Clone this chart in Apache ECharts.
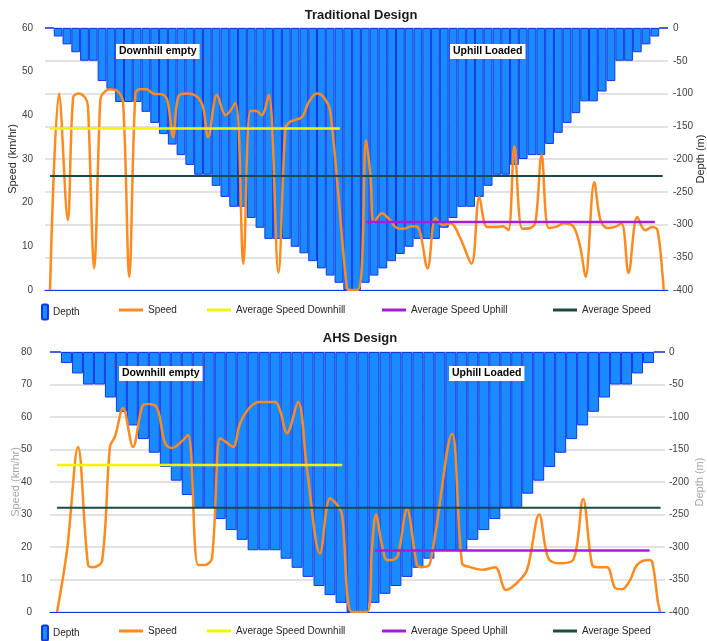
<!DOCTYPE html>
<html>
<head>
<meta charset="utf-8">
<script src="https://cdn.jsdelivr.net/npm/echarts@6/dist/echarts.min.js"></script>
<style>
  html, body { margin: 0; padding: 0; background: #ffffff; }
  #chart { width: 707px; height: 641px; }
</style>
</head>
<body>
<div id="chart"></div>
<script>
// ---- Traditional design: pit depth per bench segment (m) ----
const tradDepth = [0, -13, -25, -37, -50, -50, -81, -93, -113, -113, -113,
  -128, -145, -162, -178, -194, -209, -224, -224, -241, -258,
  -273, -273, -290, -305, -322, -322, -322, -334, -344, -356,
  -367, -378, -389, -400, -400, -389, -378, -367, -356, -345,
  -334, -322, -322, -322, -305, -290, -273, -273, -258, -241,
  -224, -224, -209, -200, -194, -194, -177, -160, -145, -130,
  -112, -112, -97, -81, -50, -50, -37, -25, -13, 0];

// Traditional design: truck speed along the haul cycle (station in segment units, km/hr)
const tradStation = [0.57, 1.6, 2.6, 3.2, 3.8, 4.6, 4.9, 5.6, 6.3, 6.6, 7.4, 8.3, 8.9, 9.6,
  10.3, 10.8, 11.6, 12.3, 13.5, 14.0, 14.6, 15.2, 16.2, 17.3, 18.0, 18.6, 19.6, 20.6,
  21.7, 22.6, 23.4, 24.1, 24.7, 25.5, 26.6, 27.4, 27.9, 29.3, 30.0, 31.0, 31.7, 32.5,
  34.4, 34.8, 35.6, 36.1, 36.6, 37.1, 37.5, 38.4, 39.1, 40.1, 40.8, 41.8, 42.5, 43.6,
  44.5, 45.3, 46.2, 47.3, 48.6, 49.5, 50.4, 51.5, 52.2, 52.8, 53.5, 54.4, 55.3, 55.9,
  56.6, 57.4, 58.3, 59.1, 60.2, 61.0, 61.6, 62.6, 63.3, 64.1, 64.9, 65.7, 66.5, 67.5,
  68.4, 69.2, 69.8, 70.4, 70.5];
const tradSpeed = [0, 45, 16, 44, 45, 44, 42, 5, 43.5, 45, 46, 45.5, 43, 3,
  45, 46, 46, 45, 44.7, 43, 35, 44.3, 45, 44.3, 42, 35, 44.7, 40,
  42.8, 6, 41, 41, 40, 44.7, 4, 37, 38.5, 39.6, 42.8, 45, 44.3, 41,
  0.5, 0, 0, 5, 34.3, 26, 15.4, 17.6, 16.5, 14.2, 14, 14.6, 14.4, 5,
  16.5, 14.9, 15.3, 12, 6, 21.3, 14.4, 14.4, 14.6, 13.7, 33, 14, 14.2, 15.6,
  31, 14.2, 14.5, 15.3, 14.6, 9.8, 3, 24.7, 16, 14.2, 14.4, 15.3, 3.9, 16.7,
  13.7, 14.4, 13.7, 3, 0];

// Traditional design: average speeds (km/hr) and the stretch each one covers
const tradAvgDownhill = 37;
const tradAvgDownhillSpan = [0.57, 33.6];
const tradAvgUphill = 15.6;
const tradAvgUphillSpan = [36.6, 69.5];
const tradAvgAll = 26.1;
const tradAvgAllSpan = [0.57, 70.4];

// ---- AHS design: pit depth per bench segment (m) ----
const ahsDepth = [0, -17, -33, -50, -50, -70, -92, -113, -134, -155,
  -177, -198, -220, -240, -240, -257, -274, -289, -305, -305,
  -305, -318, -332, -346, -360, -374, -386, -400, -400, -386,
  -372, -360, -346, -332, -318, -305, -305, -305, -289, -274,
  -257, -240, -240, -218, -198, -177, -155, -134, -113, -92,
  -70, -50, -50, -33, -17, 0];

// AHS design: truck speed along the haul cycle (station in segment units, km/hr)
const ahsStation = [0.64, 1.55, 2.55, 3.46, 3.92, 4.74, 5.46, 5.92, 6.65, 7.56, 8.47, 8.93,
  9.75, 10.47, 11.11, 11.84, 12.57, 13.48, 14.12, 14.75, 15.48, 15.94, 16.67, 17.30,
  18.21, 19.13, 20.49, 20.95, 21.58, 22.59, 23.41, 24.59, 25.50, 26.14, 26.59, 27.50,
  28.87, 29.33, 29.69, 30.15, 30.69, 31.15, 31.69, 32.51, 33.42, 33.88, 34.61, 36.61,
  37.52, 38.25, 39.44, 40.53, 41.53, 42.53, 43.44, 44.54, 45.36, 46.27, 47.63, 48.54,
  49.36, 49.91, 50.73, 51.46, 52.09, 52.82, 53.46, 54.46, 54.83, 55.37, 55.56];
const ahsSpeed = [0, 19, 50.8, 14.5, 13.8, 15.7, 50.8, 54, 62.8, 50.8, 63.7, 64,
  62.8, 52, 50.5, 52, 54.5, 14.5, 14.5, 16.6, 53.5, 52.5, 50.8, 58,
  63, 64.6, 64.6, 62, 55, 64.6, 43.7, 18, 35, 33, 30, 0,
  0, 20, 30, 22, 16, 16, 17.5, 31.7, 14.5, 13.8, 15, 54.8,
  15, 13.8, 13, 13.8, 6.8, 9, 13, 30, 16.6, 15, 16, 34.8,
  14.5, 13.8, 13.8, 7.4, 7, 9.8, 14.5, 16, 15.5, 2.8, 0];

// AHS design: average speeds (km/hr) and the stretch each one covers
const ahsAvgDownhill = 45.2;
const ahsAvgDownhillSpan = [0.64, 26.6];
const ahsAvgUphill = 18.9;
const ahsAvgUphillSpan = [29.6, 54.6];
const ahsAvgAll = 32.1;
const ahsAvgAllSpan = [0.64, 55.6];

// Axis tick settings
const speedTicksTrad = { min: 0, max: 60, interval: 10 };
const speedTicksAhs = { min: 0, max: 80, interval: 10 };
const depthTicks = { min: -400, max: 0, interval: 50 };

const FONT = 'Liberation Sans';
const COLORS = {
  barFill: '#1a8aff',
  barEdge: '#1436e6',
  speed: '#ff8a1f',
  down: '#f4f400',
  up: '#a81cd6',
  all: '#1d4a45',
  grid: '#d9d9d9',
  label: '#404040'
};

const pairs = (xs, ys) => xs.map((x, i) => [x, ys[i]]);
const flat = (span, v) => [[span[0], v], [span[1], v]];
const catLabels = n => Array.from({ length: n }, (_, i) => String(i + 1));

function panelAxes(gridIndex, n) {
  return [
    {
      // category axis for the depth bars; its line closes the top edge of the pit profile
      type: 'category', gridIndex, data: catLabels(n), position: 'top', boundaryGap: true,
      axisLine: { show: true, lineStyle: { color: COLORS.barEdge, width: 1.2 } },
      axisTick: { show: false }, axisLabel: { show: false }, splitLine: { show: false }
    },
    { type: 'value', gridIndex, min: 0, max: n, show: false }
  ];
}

function speedAxis(gridIndex, ticks, nameColor, gap, labelMargin) {
  return {
    type: 'value', gridIndex, position: 'left',
    min: ticks.min, max: ticks.max, interval: ticks.interval,
    name: 'Speed (km/hr)', nameLocation: 'middle', nameGap: gap, nameMoveOverlap: false,
    nameTextStyle: { fontFamily: FONT, fontSize: 11, color: nameColor },
    axisLine: { show: false }, axisTick: { show: false },
    axisLabel: { fontFamily: FONT, fontSize: 10, color: COLORS.label, margin: labelMargin },
    splitLine: { show: false }
  };
}

function depthAxis(gridIndex, nameColor, gap, labelMargin) {
  return {
    type: 'value', gridIndex, position: 'right',
    min: depthTicks.min, max: depthTicks.max, interval: depthTicks.interval,
    name: 'Depth (m)', nameLocation: 'middle', nameGap: gap, nameMoveOverlap: false,
    nameTextStyle: { fontFamily: FONT, fontSize: 11, color: nameColor },
    axisLine: { show: false }, axisTick: { show: false },
    axisLabel: { fontFamily: FONT, fontSize: 10, color: COLORS.label, margin: labelMargin },
    splitLine: { show: true, lineStyle: { color: COLORS.grid, width: 1.5 } }
  };
}

function panelSeries(xCat, xVal, ySpeed, yDepth, depth, station, speed,
                     avgDown, spanDown, avgUp, spanUp, avgAll, spanAll) {
  const line = (name, data, color, width, z, smooth) => ({
    name, type: 'line', xAxisIndex: xVal, yAxisIndex: ySpeed, data,
    smooth: smooth || false, symbol: 'none', z,
    lineStyle: { color, width }, itemStyle: { color }
  });
  return [
    {
      name: 'Depth', type: 'bar', xAxisIndex: xCat, yAxisIndex: yDepth, data: depth,
      barCategoryGap: '0%', z: 1,
      itemStyle: { color: COLORS.barFill, borderColor: COLORS.barEdge, borderWidth: 1 }
    },
    line('Speed', pairs(station, speed), COLORS.speed, 2.5, 3, 0.35),
    line('Average Speed Downhill', flat(spanDown, avgDown), COLORS.down, 2.5, 4),
    line('Average Speed Uphill', flat(spanUp, avgUp), COLORS.up, 2.5, 4),
    line('Average Speed', flat(spanAll, avgAll), COLORS.all, 2, 4)
  ];
}

// One legend entry per box, laid out in a row under each panel
const legendEntries = [
  { name: 'Depth', left: 41, icon: 'roundRect', w: 6, h: 15 },
  { name: 'Speed', left: 119, icon: 'rect', w: 24, h: 3 },
  { name: 'Average Speed Downhill', left: 207, icon: 'rect', w: 24, h: 3 },
  { name: 'Average Speed Uphill', left: 382, icon: 'rect', w: 24, h: 3 },
  { name: 'Average Speed', left: 553, icon: 'rect', w: 24, h: 3 }
];
function legendRow(centerY) {
  return legendEntries.map(e => {
    const h = Math.max(e.h, 12);
    return {
      data: [{ name: e.name, icon: e.icon }],
      left: e.left, top: centerY - h / 2, padding: 0,
      itemWidth: e.w, itemHeight: e.h, itemGap: 0,
      textStyle: { fontFamily: FONT, fontSize: 10, color: '#262626' },
      selectedMode: false
    };
  });
}

function tag(text, x, y) {
  return {
    type: 'text', left: x, top: y, z: 100,
    style: {
      text, font: 'bold 10.5px ' + FONT, fill: '#000000',
      backgroundColor: '#ffffff', padding: [2, 3, 2, 3]
    }
  };
}

const option = {
  animation: false,
  backgroundColor: '#ffffff',
  title: [
    { text: 'Traditional Design', left: 356, top: 4, textAlign: 'center',
      textStyle: { fontFamily: FONT, fontSize: 13, fontWeight: 'bold', color: '#1a1a1a' } },
    { text: 'AHS Design', left: 355, top: 327, textAlign: 'center',
      textStyle: { fontFamily: FONT, fontSize: 13, fontWeight: 'bold', color: '#1a1a1a' } }
  ],
  grid: [
    { left: 45, width: 623, top: 28, height: 262, containLabel: false, outerBoundsMode: 'none' },
    { left: 50, width: 615, top: 352, height: 260, containLabel: false, outerBoundsMode: 'none' }
  ],
  xAxis: [...panelAxes(0, tradDepth.length), ...panelAxes(1, ahsDepth.length)],
  yAxis: [
    speedAxis(0, speedTicksTrad, '#262626', 27, 12),
    depthAxis(0, '#262626', 27, 5),
    speedAxis(1, speedTicksAhs, '#a6a6a6', 29, 18),
    depthAxis(1, '#a6a6a6', 29, 4)
  ],
  legend: [...legendRow(311), ...legendRow(632)],
  series: [
    ...panelSeries(0, 1, 0, 1, tradDepth, tradStation, tradSpeed,
      tradAvgDownhill, tradAvgDownhillSpan, tradAvgUphill, tradAvgUphillSpan,
      tradAvgAll, tradAvgAllSpan),
    ...panelSeries(2, 3, 2, 3, ahsDepth, ahsStation, ahsSpeed,
      ahsAvgDownhill, ahsAvgDownhillSpan, ahsAvgUphill, ahsAvgUphillSpan,
      ahsAvgAll, ahsAvgAllSpan)
  ],
  graphic: [
    tag('Downhill empty', 116, 44),
    tag('Uphill Loaded', 450, 44),
    tag('Downhill empty', 119, 366),
    tag('Uphill Loaded', 449, 366)
  ]
};

const chart = echarts.init(document.getElementById('chart'), null, { renderer: 'canvas' });
chart.setOption(option);
</script>
</body>
</html>
